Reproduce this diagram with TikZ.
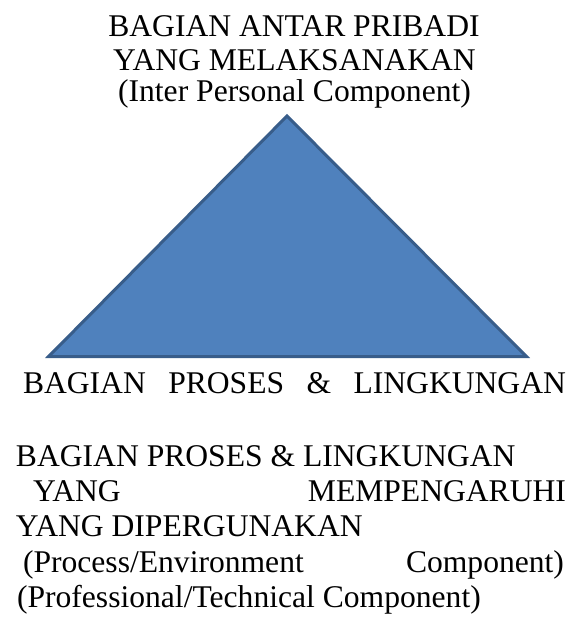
\documentclass[tikz,border=0pt]{standalone}
\usepackage{fontspec}
\setmainfont{Liberation Serif}
\definecolor{trifill}{HTML}{4F81BD}
\definecolor{tristroke}{HTML}{385D8A}
\begin{document}
\begin{tikzpicture}[x=1pt,y=-1pt,
  txt/.style={inner sep=0pt,outer sep=0pt,font=\fontsize{31.6}{35}\selectfont,text=black},
  tri/.style={fill=trifill,draw=tristroke,line width=3pt,line join=miter}]
\useasboundingbox (0,0) rectangle (586,617);
% triangle
\coordinate (apex) at (287,116);
\coordinate (bl) at (48.6,356.5);
\coordinate (br) at (526.4,356.5);
\draw[tri] (apex) -- (bl) -- (br) -- cycle;
% top labels
\node[txt,anchor=base] (t1) at (294,37) {BAGIAN ANTAR PRIBADI};
\node[txt,anchor=base] (t2) at (294.5,71) {YANG MELAKSANAKAN};
\node[txt,anchor=base] (t3) at (294.5,102) {(Inter Personal Component)};
% label under triangle
\node[txt,anchor=base west] (b0) at (23,393) {\makebox[543pt][s]{BAGIAN\hfill PROSES\hfill \&\hfill LINGKUNGAN}};
% bottom block
\node[txt,anchor=base west] (b1) at (16,466) {BAGIAN PROSES \& LINGKUNGAN};
\node[txt,anchor=base west] (b2) at (33,501) {\makebox[533pt][s]{YANG\hfill MEMPENGARUHI}};
\node[txt,anchor=base west] (b3) at (16,536) {YANG DIPERGUNAKAN};
\node[txt,anchor=base west] (b4) at (23,572) {\makebox[541pt][s]{(Process/Environment\hfill Component)}};
\node[txt,anchor=base west] (b5) at (17,607) {(Professional/Technical Component)};
\end{tikzpicture}
\end{document}
